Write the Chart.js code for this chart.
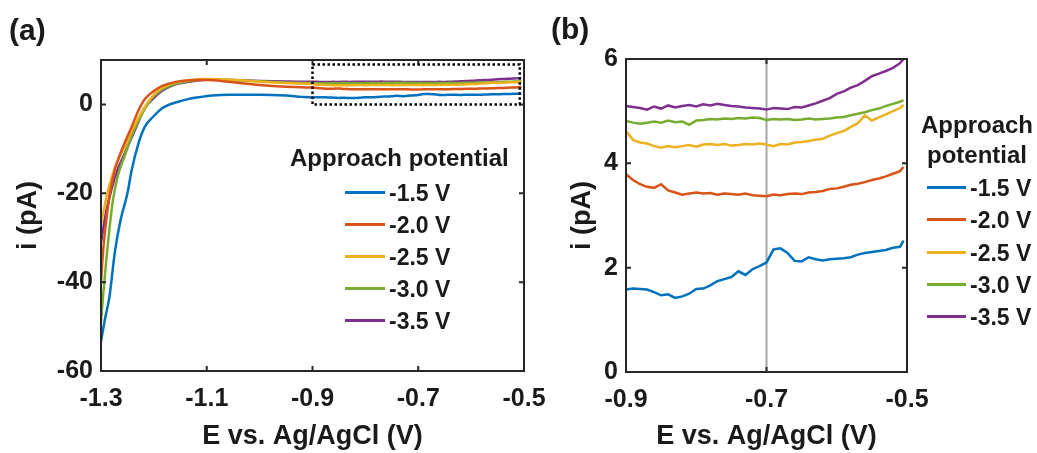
<!DOCTYPE html>
<html>
<head>
<meta charset="utf-8">
<script src="https://cdn.jsdelivr.net/npm/chart.js@4.4.1/dist/chart.umd.min.js"></script>
<style>
  body { margin: 0; background: #ffffff; }
  #lienzo { position: relative; width: 1037px; height: 453px; overflow: hidden;
            font-family: 'Liberation Sans', Arial, sans-serif; font-weight: bold; color: #1a1a1a; }
  canvas { position: absolute; top: 0; }
  .etiqueta { position: absolute; font-size: 30px; line-height: 30px; }
  .leyenda { position: absolute; font-size: 23px; }
  .leyenda .titulo { position: absolute; white-space: nowrap; font-size: 24px; line-height: 24px; }
  .leyenda .fila { position: absolute; height: 24px; white-space: nowrap; }
  .leyenda .linea { position: absolute; top: 10px; height: 3px; }
  .leyenda .texto { position: absolute; top: 0; line-height: 24px; }
</style>
</head>
<body>
<div id="lienzo">
  <canvas id="graficaA" width="560" height="453" style="left:0px"></canvas>
  <canvas id="graficaB" width="477" height="453" style="left:560px"></canvas>
  <div class="etiqueta" style="left:9px; top:15px">(a)</div>
  <div class="etiqueta" style="left:551px; top:14px">(b)</div>
  <div class="leyenda" id="leyendaA"></div>
  <div class="leyenda" id="leyendaB"></div>
</div>
<script>
// Series: potencial de aproximacion
var etiquetas = ['-1.5 V', '-2.0 V', '-2.5 V', '-3.0 V', '-3.5 V'];
var colores = ['#0072BD', '#D95319', '#EDB120', '#77AC30', '#7E2F8E'];

// Ticks
var ticksXA = [-1.3, -1.1, -0.9, -0.7, -0.5];
var ticksYA = [-60, -40, -20, 0];
var ticksXB = [-0.9, -0.7, -0.5];
var ticksYB = [0, 2, 4, 6];

// Zona ampliada (b): E de -0.9 a -0.505 V
var xB = [-0.90, -0.89, -0.88, -0.87, -0.86, -0.85, -0.84, -0.83, -0.82, -0.81,
          -0.80, -0.79, -0.78, -0.77, -0.76, -0.75, -0.74, -0.73, -0.72, -0.71,
          -0.70, -0.69, -0.68, -0.67, -0.66, -0.65, -0.64, -0.63, -0.62, -0.61,
          -0.60, -0.59, -0.58, -0.57, -0.56, -0.55, -0.54, -0.53, -0.52, -0.51, -0.505];
var yB15 = [1.58, 1.60, 1.59, 1.58, 1.53, 1.47, 1.49, 1.42, 1.45, 1.50,
            1.59, 1.60, 1.66, 1.74, 1.78, 1.82, 1.93, 1.86, 1.97, 2.03,
            2.10, 2.35, 2.37, 2.28, 2.13, 2.12, 2.20, 2.16, 2.14, 2.16,
            2.17, 2.18, 2.20, 2.25, 2.28, 2.30, 2.32, 2.34, 2.38, 2.40, 2.52];
var yB20 = [3.79, 3.68, 3.60, 3.55, 3.53, 3.60, 3.48, 3.44, 3.40, 3.42,
            3.44, 3.42, 3.43, 3.40, 3.42, 3.41, 3.40, 3.42, 3.39, 3.38,
            3.37, 3.40, 3.39, 3.41, 3.42, 3.41, 3.44, 3.45, 3.47, 3.51,
            3.52, 3.55, 3.59, 3.61, 3.64, 3.68, 3.71, 3.75, 3.80, 3.85, 3.93];
var yB25 = [4.62, 4.45, 4.40, 4.38, 4.33, 4.30, 4.33, 4.31, 4.33, 4.35,
            4.32, 4.36, 4.37, 4.35, 4.37, 4.34, 4.35, 4.37, 4.36, 4.38,
            4.36, 4.33, 4.37, 4.36, 4.40, 4.41, 4.43, 4.45, 4.47, 4.53,
            4.58, 4.62, 4.70, 4.77, 4.92, 4.82, 4.88, 4.94, 5.00, 5.06, 5.12];
var yB30 = [4.81, 4.78, 4.76, 4.78, 4.80, 4.78, 4.82, 4.79, 4.80, 4.74,
            4.82, 4.83, 4.85, 4.84, 4.86, 4.85, 4.87, 4.86, 4.88, 4.87,
            4.83, 4.85, 4.84, 4.85, 4.83, 4.84, 4.86, 4.84, 4.85, 4.86,
            4.88, 4.89, 4.92, 4.95, 4.98, 5.02, 5.05, 5.10, 5.14, 5.18, 5.21];
var yB35 = [5.10, 5.08, 5.06, 5.03, 5.09, 5.05, 5.11, 5.07, 5.10, 5.12,
            5.09, 5.13, 5.11, 5.14, 5.12, 5.10, 5.09, 5.07, 5.06, 5.05,
            5.03, 5.06, 5.05, 5.04, 5.08, 5.07, 5.11, 5.15, 5.20, 5.25,
            5.33, 5.38, 5.45, 5.50, 5.58, 5.67, 5.72, 5.77, 5.83, 5.92, 6.00];

// Tramo inicial (a): de -1.3 a -0.92 V
var xA15 = [-1.3, -1.292, -1.284, -1.274, -1.263, -1.25, -1.242, -1.229, -1.217, -1.2, -1.185, -1.17, -1.154, -1.135, -1.11, -1.09, -1.06, -1.0, -0.95, -0.92];
var yA15 = [-53.4, -48, -43.3, -33.4, -26, -20, -14.8, -8.7, -5.0, -2.6, -0.9, 0, 0.6, 1.2, 1.7, 2.0, 2.2, 2.2, 2.0, 1.7];
var xA20 = [-1.3, -1.296, -1.29, -1.283, -1.274, -1.261, -1.242, -1.229, -1.217, -1.198, -1.185, -1.165, -1.147, -1.12, -1.1, -1.06, -1.0, -0.95, -0.92];
var yA20 = [-40, -33, -26, -20, -14.8, -10.3, -5.0, -1.3, 1.2, 3.2, 4.1, 4.9, 5.3, 5.5, 5.5, 5.1, 4.4, 4.0, 3.85];
var xA25 = [-1.3, -1.29, -1.28, -1.268, -1.255, -1.24, -1.222, -1.205, -1.19, -1.175, -1.16, -1.13, -1.1, -1.06, -1.0, -0.95, -0.92];
var yA25 = [-27, -21, -16.5, -12.5, -9.5, -5.5, -1.5, 1.5, 3.3, 4.3, 4.9, 5.5, 5.7, 5.6, 5.1, 4.8, 4.7];
var xA30 = [-1.3, -1.296, -1.29, -1.284, -1.278, -1.268, -1.255, -1.24, -1.222, -1.205, -1.19, -1.175, -1.16, -1.13, -1.1, -1.06, -1.0, -0.95, -0.92];
var yA30 = [-49, -43, -35, -28, -22, -16, -11.5, -6.5, -2, 1.2, 2.9, 3.9, 4.6, 5.3, 5.6, 5.5, 5.2, 4.95, 4.85];
var xA35 = [-1.3, -1.29, -1.28, -1.268, -1.255, -1.236, -1.217, -1.2, -1.185, -1.17, -1.154, -1.122, -1.09, -1.05, -1.0, -0.95, -0.92];
var yA35 = [-31, -24, -19, -14.5, -11, -5.8, -0.8, 1.5, 3.0, 4.0, 4.7, 5.3, 5.6, 5.5, 5.3, 5.15, 5.1];

var fuente = "'Liberation Sans', Arial, sans-serif";
var colorTexto = '#1a1a1a';

function puntos(xs, ys) {
    var res = [];
    for (var i = 0; i < xs.length; i++) {
        res.push({ x: xs[i], y: ys[i] });
    }
    return res;
}

function armarDatasets(lista, suave) {
    return lista.map(function (datos, i) {
        var ds = {
            label: etiquetas[i],
            data: datos,
            borderColor: colores[i],
            backgroundColor: colores[i],
            borderWidth: 2.5,
            pointRadius: 0,
            tension: 0,
            fill: false
        };
        if (suave) {
            ds.cubicInterpolationMode = 'monotone';
        }
        return ds;
    });
}

// Marco, ticks hacia dentro, caja punteada y linea gris
var marcoPlugin = {
    id: 'marco',
    beforeDatasetsDraw: function (chart, args, opts) {
        var ctx = chart.ctx, a = chart.chartArea, sx = chart.scales.x;
        if (opts.lineaV != null) {
            var px = sx.getPixelForValue(opts.lineaV);
            ctx.save();
            ctx.strokeStyle = '#a6a6a6';
            ctx.lineWidth = 2;
            ctx.beginPath();
            ctx.moveTo(px, a.top);
            ctx.lineTo(px, a.bottom);
            ctx.stroke();
            ctx.restore();
        }
    },
    afterDatasetsDraw: function (chart, args, opts) {
        var ctx = chart.ctx, a = chart.chartArea;
        var sx = chart.scales.x, sy = chart.scales.y;
        var largo = 5;
        ctx.save();
        ctx.strokeStyle = '#262626';
        ctx.lineWidth = 2;
        ctx.strokeRect(a.left, a.top, a.right - a.left, a.bottom - a.top);
        ctx.beginPath();
        opts.ticksX.forEach(function (v) {
            var px = sx.getPixelForValue(v);
            ctx.moveTo(px, a.bottom); ctx.lineTo(px, a.bottom - largo);
            ctx.moveTo(px, a.top); ctx.lineTo(px, a.top + largo);
        });
        opts.ticksY.forEach(function (v) {
            var py = sy.getPixelForValue(v);
            ctx.moveTo(a.left, py); ctx.lineTo(a.left + largo, py);
            ctx.moveTo(a.right, py); ctx.lineTo(a.right - largo, py);
        });
        ctx.stroke();
        if (opts.caja) {
            var c = opts.caja;
            var x1 = sx.getPixelForValue(c[0]), x2 = sx.getPixelForValue(c[1]);
            var y1 = sy.getPixelForValue(c[2]), y2 = sy.getPixelForValue(c[3]);
            ctx.strokeStyle = '#000000';
            ctx.lineWidth = 2.5;
            ctx.setLineDash([2.5, 2.5]);
            ctx.strokeRect(x1, y2, x2 - x1, y1 - y2);
        }
        ctx.restore();
    }
};

function ejes(xMin, xMax, yMin, yMax, anchoY, altoX, ticksX, ticksY, pasoX, pasoY) {
    return {
        x: {
            type: 'linear',
            min: xMin, max: xMax,
            grid: { display: false, drawTicks: false },
            border: { display: false },
            ticks: {
                stepSize: pasoX, autoSkip: false, includeBounds: false,
                padding: 13, color: colorTexto,
                font: { family: fuente, size: 25, weight: 'bold' },
                callback: function (v) {
                    var ok = ticksX.some(function (t) { return Math.abs(t - v) < 1e-6; });
                    return ok ? Number(v).toFixed(1) : '';
                }
            },
            title: {
                display: true, text: 'E vs. Ag/AgCl (V)', color: colorTexto,
                font: { family: fuente, size: 27, weight: 'bold' },
                padding: { top: 0, bottom: 0 }
            },
            afterFit: function (scale) { scale.height = altoX; }
        },
        y: {
            type: 'linear',
            min: yMin, max: yMax,
            grid: { display: false, drawTicks: false },
            border: { display: false },
            ticks: {
                stepSize: pasoY, autoSkip: false, includeBounds: false,
                padding: 8, color: colorTexto,
                font: { family: fuente, size: 25, weight: 'bold' },
                callback: function (v) {
                    var ok = ticksY.some(function (t) { return Math.abs(t - v) < 1e-6; });
                    return ok ? String(Math.round(v)) : '';
                }
            },
            title: {
                display: true, text: 'i (pA)', color: colorTexto,
                font: { family: fuente, size: 27, weight: 'bold' },
                padding: { top: 4, bottom: 0 }
            },
            afterFit: function (scale) { scale.width = anchoY; }
        }
    };
}

function dibujarGraficaA() {
    var datos = [
        puntos(xA15.concat(xB), yA15.concat(yB15)),
        puntos(xA20.concat(xB), yA20.concat(yB20)),
        puntos(xA25.concat(xB), yA25.concat(yB25)),
        puntos(xA30.concat(xB), yA30.concat(yB30)),
        puntos(xA35.concat(xB), yA35.concat(yB35))
    ];
    new Chart(document.getElementById('graficaA').getContext('2d'), {
        type: 'line',
        data: { datasets: armarDatasets(datos, true) },
        plugins: [marcoPlugin],
        options: {
            responsive: false, animation: false, devicePixelRatio: 1,
            layout: { padding: { left: 8, top: 60, right: 36, bottom: 0 } },
            scales: ejes(-1.3, -0.5, -60, 10, 93, 82, ticksXA, ticksYA, 0.2, 20),
            plugins: {
                legend: { display: false },
                tooltip: { enabled: false },
                marco: { ticksX: ticksXA, ticksY: ticksYA, caja: [-0.9, -0.508, 0, 9] }
            }
        }
    });
}

function dibujarGraficaB() {
    var datos = [puntos(xB, yB15), puntos(xB, yB20), puntos(xB, yB25), puntos(xB, yB30), puntos(xB, yB35)];
    new Chart(document.getElementById('graficaB').getContext('2d'), {
        type: 'line',
        data: { datasets: armarDatasets(datos, false) },
        plugins: [marcoPlugin],
        options: {
            responsive: false, animation: false, devicePixelRatio: 1,
            layout: { padding: { left: 2, top: 59, right: 130, bottom: 0 } },
            scales: ejes(-0.9, -0.5, 0, 6, 64, 81, ticksXB, ticksYB, 0.2, 2),
            plugins: {
                legend: { display: false },
                tooltip: { enabled: false },
                marco: { ticksX: ticksXB, ticksY: ticksYB, lineaV: -0.7 }
            }
        }
    });
}

// Leyendas en HTML
function armarLeyenda(id, titulos, tituloX, tituloYs, lineaX, textoX, filasY, centrado) {
    var caja = document.getElementById(id);
    titulos.forEach(function (t, i) {
        var d = document.createElement('div');
        d.className = 'titulo';
        d.textContent = t;
        d.style.top = (tituloYs[i] - 12) + 'px';
        if (centrado) {
            d.style.left = (tituloX - 80) + 'px';
            d.style.width = '160px';
            d.style.textAlign = 'center';
        } else {
            d.style.left = tituloX + 'px';
        }
        caja.appendChild(d);
    });
    etiquetas.forEach(function (et, i) {
        var f = document.createElement('div');
        f.className = 'fila';
        f.style.top = (filasY[i] - 12) + 'px';
        f.style.left = '0px';
        var l = document.createElement('div');
        l.className = 'linea';
        l.style.left = lineaX[0] + 'px';
        l.style.width = (lineaX[1] - lineaX[0]) + 'px';
        l.style.background = colores[i];
        var t = document.createElement('div');
        t.className = 'texto';
        t.style.left = textoX + 'px';
        t.textContent = et;
        f.appendChild(l);
        f.appendChild(t);
        caja.appendChild(f);
    });
}

dibujarGraficaA();
dibujarGraficaB();
armarLeyenda('leyendaA', ['Approach potential'], 290, [158], [345, 385], 389, [193, 225, 257, 289, 321], false);
armarLeyenda('leyendaB', ['Approach', 'potential'], 977, [125, 155], [927, 966], 970, [188, 220, 253, 285, 317], true);
</script>
</body>
</html>
